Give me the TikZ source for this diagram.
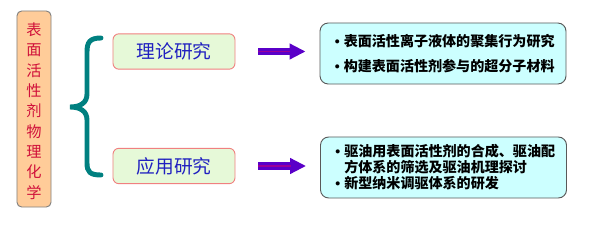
\documentclass[tikz,border=0pt]{standalone}
\usepackage{fontspec}
\newfontfamily\cjk{Noto Sans CJK SC}
\newfontfamily\latin{Liberation Sans}
\usepackage{xcolor}
\usepackage{tikz}
\usetikzlibrary{calc, arrows.meta, positioning}

\definecolor{leftfill}{HTML}{FFCC99}
\definecolor{lefttext}{HTML}{D0103A}
\definecolor{bracecol}{HTML}{008080}
\definecolor{tfill}{HTML}{E6F9D8}
\definecolor{tdraw}{HTML}{F08080}
\definecolor{ttext}{HTML}{2020C0}
\definecolor{arrowcol}{HTML}{5A00C8}
\definecolor{arrowmid}{HTML}{990099}
\definecolor{rfill}{HTML}{CCFFFF}

\newcommand{\bul}{\makebox[0.27cm][l]{{\latin\textbullet}}}

\tikzset{
    leftbox/.style={draw=gray, fill=leftfill, rounded corners=4pt, line width=0.8pt,
        minimum width=1.02cm, minimum height=5.88cm, inner sep=0pt},
    tbox/.style={draw=tdraw, fill=tfill, rounded corners=5pt, line width=0.8pt,
        minimum width=3.66cm, minimum height=1.06cm, inner sep=0pt,
        text=ttext, font={\cjk\fontsize{16pt}{18pt}\selectfont}},
    rbox/.style={draw=black!65, fill=rfill, rounded corners=7pt, line width=0.8pt,
        minimum width=7.38cm, minimum height=1.83cm, inner sep=0pt},
    rtext/.style={anchor=west, align=left, inner sep=0pt,
        font={\cjk\bfseries\fontsize{12pt}{13.6pt}\selectfont}},
    bigarrow/.style={line width=6.8pt, arrowcol,
        -{Triangle[length=13.6pt, width=12.75pt]},
        shorten <=19.5pt, shorten >=11.9pt},
    midline/.style={line width=1.6pt, arrowmid,
        shorten <=19.5pt, shorten >=25pt}
}

\begin{document}
\begin{tikzpicture}[x=0.03cm, y=-0.03cm]
    \useasboundingbox (0,0) rectangle (600,229);

    % 1. 左侧竖排标题
    \node[leftbox] (title) at (34,109) {};
    \node[align=center, text=lefttext, inner sep=0pt,
        font={\cjk\fontsize{13pt}{17.4pt}\selectfont}] (titletxt) at (34,111)
        {表\\面\\活\\性\\剂\\物\\理\\化\\学};

    % 2. 大括号
    \draw[bracecol, line width=4.2pt, line cap=round]
        (101,38) .. controls (90,38) and (87,42) .. (87,52) -- (87,94)
        .. controls (87,103) and (80,107) .. (70,107)
        .. controls (80,107) and (87,111) .. (87,120) -- (87,163)
        .. controls (87,172) and (90,175) .. (101,175);

    % 3. 两个研究方向
    \node[tbox] (theory) at (174,51.5) {理论研究};
    \node[tbox] (applied) at (174,166) {应用研究};

    % 4. 右侧内容框
    \node[rbox] (r1) at (443,53.5) {};
    \node[rtext] (r1txt) at ([xshift=0.45cm]r1.west)
        {\bul 表面活性离子液体的聚集行为研究\\[7.6pt]
         \bul 构建表面活性剂参与的超分子材料};

    \node[rbox] (r2) at (443.5,167.5) {};
    \node[rtext] (r2txt) at ([xshift=0.45cm]r2.west)
        {\bul 驱油用表面活性剂的合成、驱油配\\
         \hspace*{0.27cm}方体系的筛选及驱油机理探讨\\
         \bul 新型纳米调驱体系的研发};

    % 5. 箭头
    \draw[bigarrow] (theory.east) -- (theory.east -| r1.west);
    \draw[midline] (theory.east) -- (theory.east -| r1.west);
    \draw[bigarrow] (applied.east) -- (applied.east -| r2.west);
    \draw[midline] (applied.east) -- (applied.east -| r2.west);
\end{tikzpicture}
\end{document}
